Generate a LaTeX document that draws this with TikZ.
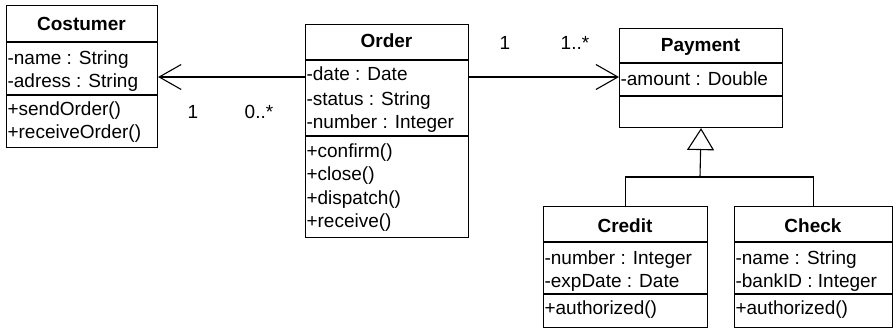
\documentclass[tikz,border=0pt]{standalone}
\usepackage{fontspec}
\setmainfont{Liberation Sans}
\usetikzlibrary{arrows.meta}
\begin{document}
\begin{tikzpicture}[x=1pt,y=-1pt,line width=1.1pt,
  cls/.style={draw,inner sep=0pt,anchor=north west},
  txt/.style={inner sep=0pt,anchor=base west,font=\fontsize{19}{23}\selectfont},
  ttl/.style={inner sep=0pt,anchor=base,font=\fontsize{19}{23}\selectfont\bfseries},
  mult/.style={inner sep=0pt,anchor=base,font=\fontsize{19}{23}\selectfont},
  assoc/.style={-{Straight Barb[length=22pt,width=25pt,line width=1.1pt]}},
  gen/.style={-{Triangle[open,length=22pt,width=27pt,line width=1.1pt]}}]
\useasboundingbox (0,0) rectangle (896,329);

% Costumer
\node[cls,minimum width=151pt,minimum height=142pt] (cost) at (6,5) {};
\node[ttl] (costT) at (81.5,31) {Costumer};
\draw (cost.west |- 0,42) -- (cost.east |- 0,42);
\draw (cost.west |- 0,95) -- (cost.east |- 0,95);
\node[txt] (costA1) at (7,64) {-name : String};
\node[txt] (costA2) at (7,87) {-adress : String};
\node[txt] (costM1) at (7,115) {+sendOrder()};
\node[txt] (costM2) at (7,138) {+receiveOrder()};

% Order
\node[cls,minimum width=163pt,minimum height=213pt] (order) at (305,24) {};
\node[ttl] (orderT) at (386.5,48) {Order};
\draw (order.west |- 0,60) -- (order.east |- 0,60);
\draw (order.west |- 0,136) -- (order.east |- 0,136);
\node[txt] (orderA1) at (306,81) {-date : Date};
\node[txt] (orderA2) at (306,105) {-status : String};
\node[txt] (orderA3) at (306,128) {-number : Integer};
\node[txt] (orderM1) at (306,157) {+confirm()};
\node[txt] (orderM2) at (306,180) {+close()};
\node[txt] (orderM3) at (306,204) {+dispatch()};
\node[txt] (orderM4) at (306,227) {+receive()};

% Payment
\node[cls,minimum width=163pt,minimum height=99pt] (pay) at (619,28) {};
\node[ttl] (payT) at (700.5,52) {Payment};
\draw (pay.west |- 0,63) -- (pay.east |- 0,63);
\draw (pay.west |- 0,96) -- (pay.east |- 0,96);
\node[txt] (payA1) at (620,85) {-amount : Double};

% Credit
\node[cls,minimum width=164pt,minimum height=121pt] (credit) at (543,206) {};
\node[ttl] (creditT) at (625,232) {Credit};
\draw (credit.west |- 0,242) -- (credit.east |- 0,242);
\draw (credit.west |- 0,294) -- (credit.east |- 0,294);
\node[txt] (creditA1) at (544,264) {-number : Integer};
\node[txt] (creditA2) at (544,287) {-expDate : Date};
\node[txt] (creditM1) at (544,314) {+authorized()};

% Check
\node[cls,minimum width=158pt,minimum height=121pt] (check) at (734,206) {};
\node[ttl] (checkT) at (813,232) {Check};
\draw (check.west |- 0,242) -- (check.east |- 0,242);
\draw (check.west |- 0,294) -- (check.east |- 0,294);
\node[txt] (checkA1) at (735,264) {-name : String};
\node[txt] (checkA2) at (735,287) {-bankID : Integer};
\node[txt] (checkM1) at (735,314) {+authorized()};

% Associations
\draw[assoc] (order.west |- 0,77) -- (cost.east |- 0,77);
\draw[assoc] (order.east |- 0,77) -- (pay.west |- 0,77);
\node[mult] (m1) at (193,118) {1};
\node[mult] (m2) at (259,118) {0..*};
\node[mult] (m3) at (505,49) {1};
\node[mult] (m4) at (575,49) {1..*};

% Generalization
\coordinate (split) at (700,177);
\draw (credit.north) |- (split) -| (check.north);
\draw[gen] (split) -- (pay.south);
\end{tikzpicture}
\end{document}
